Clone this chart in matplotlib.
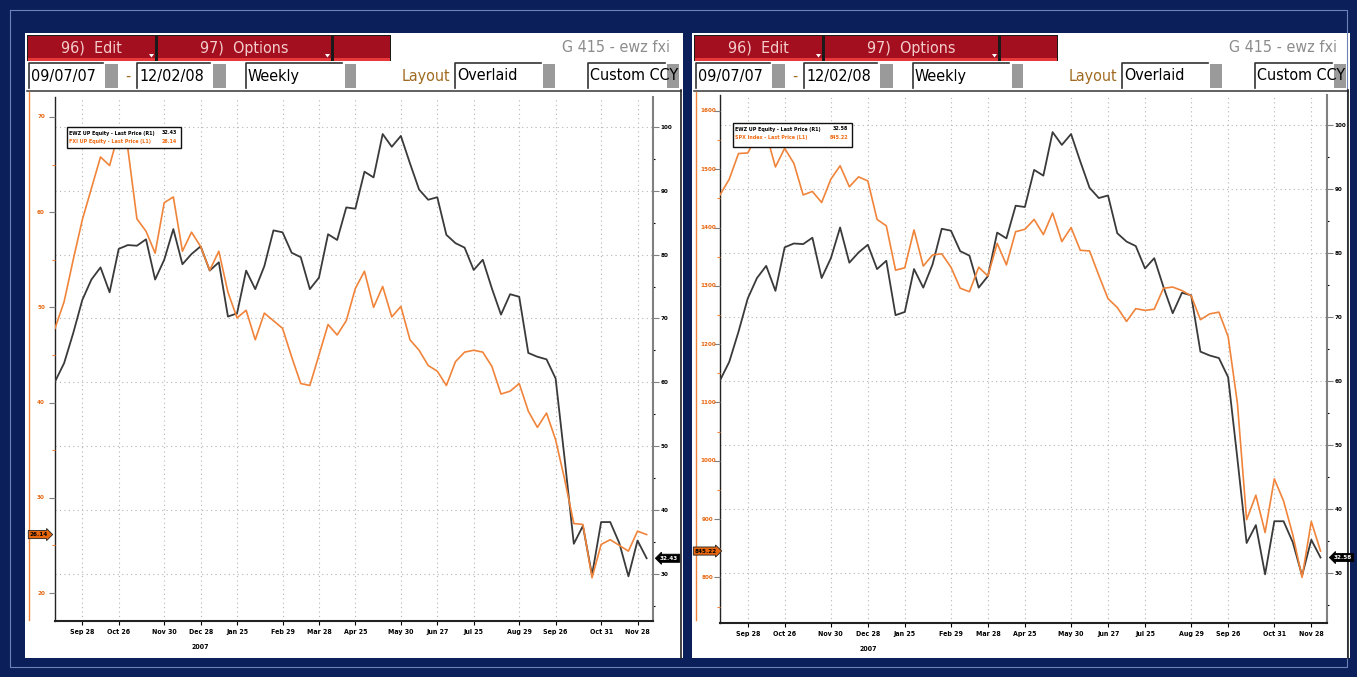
import numpy as np
import pandas as pd
import matplotlib
matplotlib.use("Agg")
import matplotlib.pyplot as plt
from matplotlib.patches import Rectangle, Polygon
from matplotlib.transforms import Affine2D, IdentityTransform, blended_transform_factory
from matplotlib.ticker import FixedLocator, MultipleLocator

# ---------------- data ----------------
week_dates = list(pd.date_range("2007-09-07", "2008-11-28", freq="W-FRI").strftime("%Y-%m-%d")) + ["2008-12-02"]
tick_dates = ["2007-09-28", "2007-10-26", "2007-11-30", "2007-12-28", "2008-01-25", "2008-02-29",
              "2008-03-28", "2008-04-25", "2008-05-30", "2008-06-27", "2008-07-25", "2008-08-29",
              "2008-09-26", "2008-10-31", "2008-11-28"]
tick_labels = ["Sep 28", "Oct 26", "Nov 30", "Dec 28", "Jan 25", "Feb 29", "Mar 28", "Apr 25",
               "May 30", "Jun 27", "Jul 25", "Aug 29", "Sep 26", "Oct 31", "Nov 28"]
year_label = "2007"

ewz = [60.1, 63.0, 67.7, 72.9, 76.1, 78.0, 74.1, 80.9, 81.5, 81.4, 82.4, 76.1, 79.2, 84.0, 78.5, 80.1,
       81.3, 77.5, 78.8, 70.3, 70.8, 77.5, 74.6, 78.2, 83.8, 83.5, 80.3, 79.6, 74.6, 76.4, 83.2, 82.3,
       87.4, 87.2, 93.0, 92.1, 98.9, 96.9, 98.6, 94.3, 90.2, 88.6, 89.0, 83.1, 81.8, 81.1, 77.6, 79.2,
       74.7, 70.6, 73.8, 73.4, 64.6, 64.0, 63.6, 60.6, 47.9, 34.7, 37.5, 29.8, 38.1, 38.1, 34.8, 29.6,
       35.2, 32.43]
fxi = [47.8, 50.6, 55.0, 59.2, 62.5, 65.8, 64.9, 68.4, 66.7, 59.3, 58.0, 55.7, 61.0, 61.6, 55.9, 57.9,
       56.4, 53.9, 55.9, 51.6, 48.9, 49.7, 46.6, 49.4, 48.6, 47.8, 44.8, 42.0, 41.8, 45.0, 48.2, 47.1,
       48.6, 52.0, 53.8, 50.0, 52.2, 49.0, 50.1, 46.6, 45.5, 43.9, 43.3, 41.8, 44.3, 45.3, 45.5, 45.3,
       43.8, 40.9, 41.2, 42.0, 39.1, 37.4, 38.9, 36.1, 31.9, 27.3, 27.2, 21.6, 25.1, 25.6, 25.0, 24.4,
       26.5, 26.14]
spx = [1456, 1483, 1527, 1528, 1557, 1561, 1504, 1536, 1510, 1456, 1462, 1443, 1483, 1506, 1470, 1487,
       1480, 1414, 1403, 1327, 1331, 1396, 1334, 1353, 1355, 1332, 1296, 1290, 1332, 1317, 1373, 1336,
       1393, 1397, 1414, 1388, 1425, 1376, 1400, 1361, 1360, 1318, 1278, 1263, 1239, 1261, 1258, 1260,
       1296, 1298, 1292, 1283, 1242, 1252, 1255, 1213, 1099, 899, 941, 877, 969, 931, 873, 800,
       896, 845.22]

left_legend = [("EWZ UP Equity - Last Price (R1)", "32.43"), ("FXI UP Equity - Last Price (L1)", "26.14")]
right_legend = [("EWZ UP Equity - Last Price (R1)", "32.58"), ("SPX Index - Last Price (L1)", "845.22")]
header_title = "G 415 - ewz fxi"

# ---------------- style ----------------
W, H = 1357, 677
NAVY = "#0b1f5b"
ORANGE = "#f0843a"
DARK = "#3a3a3a"
RED = "#a30f1f"
plt.rcParams["font.family"] = ["DejaVu Sans"]
plt.rcParams["font.stretch"] = "condensed"

fig = plt.figure(figsize=(W / 100, H / 100), dpi=100)
fig.patch.set_facecolor(NAVY)
PIX = Affine2D().scale(1, -1).translate(0, H)


def frect(x0, y0, x1, y1, fc, ec="none", lw=0, z=-5):
    fig.add_artist(Rectangle((x0, y0), x1 - x0, y1 - y0, transform=PIX, facecolor=fc,
                             edgecolor=ec, linewidth=lw, zorder=z))


def fline(xs, ys, color, lw=1.0, z=-4):
    fig.add_artist(plt.Line2D(xs, ys, transform=PIX, color=color, linewidth=lw, zorder=z))


def ftext(x, y, s, z=-3, **kw):
    fig.text(x, y, s, transform=PIX, zorder=z, **kw)


# outer frame
fline([10, 1347, 1347, 10, 10], [10, 10, 667, 667, 10], "#6f82b5", lw=0.8, z=-6)

xs = np.arange(len(week_dates))
tick_pos = [week_dates.index(d) for d in tick_dates]


def panel(ox, px0, px1, py0, py1, lser, lylim, lticks, lminor, rylim, legend_items, legend_box):
    # panel background
    frect(ox + 25, 33, ox + 683, 658, "white", z=-8)
    # header buttons
    frect(ox + 27, 35, ox + 391, 61, "#1a1a1a", z=-7)
    for bx0, bx1, lab in [(28, 155, "96)  Edit"), (158, 331, "97)  Options"), (334, 390, "")]:
        frect(ox + bx0, 36, ox + bx1, 61, RED, z=-6)
        frect(ox + bx0, 58, ox + bx1, 61, "#e8383c", z=-6)
        if lab:
            ftext(ox + (bx0 + bx1) / 2, 48, lab, ha="center", va="center", fontsize=11.5,
                  color="#f4cccc")
            fig.add_artist(Polygon([[ox + bx1 - 6, 54], [ox + bx1 - 1, 54], [ox + bx1 - 3.5, 57.5]],
                                   closed=True, transform=PIX, facecolor="white", zorder=-2))
    ftext(ox + 670, 48, header_title, ha="right", va="center", fontsize=11.5, color="#8c8c8c")
    # row 2
    for bx0, bx1, lab in [(29, 103, "09/07/07"), (137, 210, "12/02/08"), (246, 342, "Weekly"),
                          (455, 541, "Overlaid"), (588, 665, "Custom CCY")]:
        frect(ox + bx0, 63, ox + bx1, 88, "white", z=-6)
        fline([ox + bx0, ox + bx0, ox + bx1], [88, 63, 63], "#333333", lw=1.2, z=-5)
        ftext(ox + bx0 + 2, 76, lab, ha="left", va="center", fontsize=11.5, color="black")
    for bx0, bx1 in [(105, 118), (213, 226), (345, 356), (543, 555), (667, 679)]:
        frect(ox + bx0, 64, ox + bx1, 88, "#9a9a9a", z=-6)
    ftext(ox + 128, 76, "-", ha="center", va="center", fontsize=11.5, color="#a06a20")
    ftext(ox + 426, 76, "Layout", ha="center", va="center", fontsize=11.5, color="#a06a20")
    # chart area border
    fline([ox + 27, ox + 681], [90.5, 90.5], "#444444", lw=1.2, z=-4)
    fline([ox + 681, ox + 681], [90, 658], "#222222", lw=1.2, z=-4)
    fline([ox + 28.5, ox + 28.5], [92, 620], ORANGE, lw=1.0, z=-4)

    rect = [px0 / W, (H - py1) / H, (px1 - px0) / W, (py1 - py0) / H]
    ax = fig.add_axes(rect)
    ax2 = fig.add_axes(rect, sharex=ax)
    ax2.patch.set_visible(False)

    # right axis: EWZ
    ax.plot(xs, ewz, color=DARK, lw=1.3, zorder=3)
    ax.set_xlim(0, len(xs) - 0.3)
    ax.set_ylim(*rylim)
    ax.yaxis.set_ticks_position("right")
    ax.yaxis.set_major_locator(FixedLocator(list(range(30, 101, 10))))
    ax.yaxis.set_minor_locator(MultipleLocator(5))
    ax.tick_params(axis="y", which="major", direction="out", length=4, width=0.8, color="#808080",
                   labelsize=4.5, pad=1.5, labelcolor="black")
    ax.tick_params(axis="y", which="minor", direction="out", length=1.5, width=0.8, color="black")
    for t in ax.get_yticklabels():
        t.set_fontweight("bold")
    ax.set_xticks(tick_pos)
    ax.set_xticklabels(tick_labels, fontsize=5, fontweight="bold")
    ax.tick_params(axis="x", direction="out", length=3, width=0.8, color="black", pad=3)
    ax.grid(True, color="#b5b5b5", linestyle=(0, (1, 3)), linewidth=0.8)
    ax.annotate(year_label, xy=(tick_pos[3], 0), xycoords=("data", "axes fraction"),
                xytext=(0, -26), textcoords="offset pixels", ha="center", va="center",
                fontsize=5, fontweight="bold")
    ax.spines["top"].set_visible(False)
    ax.spines["left"].set_color("#222222")
    ax.spines["left"].set_linewidth(1.0)
    ax.spines["right"].set_color("#808080")
    ax.spines["right"].set_linewidth(1.5)
    ax.spines["bottom"].set_color("#222222")
    ax.spines["bottom"].set_linewidth(1.5)

    # left axis
    ax2.plot(xs, lser, color=ORANGE, lw=1.2, zorder=2)
    ax2.set_ylim(*lylim)
    ax2.yaxis.set_ticks_position("left")
    ax2.yaxis.set_major_locator(FixedLocator(lticks))
    ax2.yaxis.set_minor_locator(MultipleLocator(lminor))
    ax2.tick_params(axis="y", which="major", direction="out", length=4, width=0.8, color="#808080",
                    labelleft=False)
    ax2.tick_params(axis="y", which="minor", direction="out", length=2, width=0.8, color=ORANGE)
    ax2.tick_params(axis="x", bottom=False, labelbottom=False)
    for s in ax2.spines.values():
        s.set_visible(False)
    bl = blended_transform_factory(IdentityTransform(), ax2.transData)
    for v in lticks:
        ax2.text(ox + 41, v, f"{v}", transform=bl, ha="center", va="center",
                 fontsize=4.5, fontweight="bold", color="#e8660e")

    # last value tags
    ax2.text(ox + 39, lser[-1], legend_items[1][1], transform=bl, ha="center", va="center",
             fontsize=4.5, fontweight="bold", color="black", zorder=8,
             bbox=dict(boxstyle="rarrow,pad=0.25", fc="#e8660e", ec="#222222", lw=0.6))
    br = blended_transform_factory(IdentityTransform(), ax.transData)
    ax.text(px1 + 16, ewz[-1], legend_items[0][1], transform=br, ha="center", va="center",
            fontsize=4.5, fontweight="bold", color="white", zorder=8,
            bbox=dict(boxstyle="larrow,pad=0.25", fc="black", ec="black", lw=0.6))

    # legend box
    lx0, ly0, lx1, ly1 = legend_box
    frect(lx0, ly0, lx1, ly1, "white", ec="#111111", lw=1.0, z=5)
    for k, (name, val) in enumerate(legend_items):
        c = "black" if k == 0 else "#f06a10"
        yy = ly0 + 6 + k * 8.5
        ftext(lx0 + 2, yy, name, z=6, ha="left", va="center", fontsize=3.9, fontweight="bold", color=c)
        ftext(lx1 - 4, yy, val, z=6, ha="right", va="center", fontsize=3.9, fontweight="bold", color=c)
    return ax, ax2


panel(0, 55, 653, 97, 621, fxi, (17.06, 72.1), list(range(20, 71, 10)), 5,
      (22.6, 104.7), left_legend, (67, 127, 181, 148))
panel(667, 720, 1327, 95, 623, spx, (721.8, 1627.4), list(range(800, 1601, 100)), 50,
      (22.2, 104.7), right_legend, (733, 123, 852, 147))

fig.savefig("out.png", dpi=100, facecolor=fig.get_facecolor())
